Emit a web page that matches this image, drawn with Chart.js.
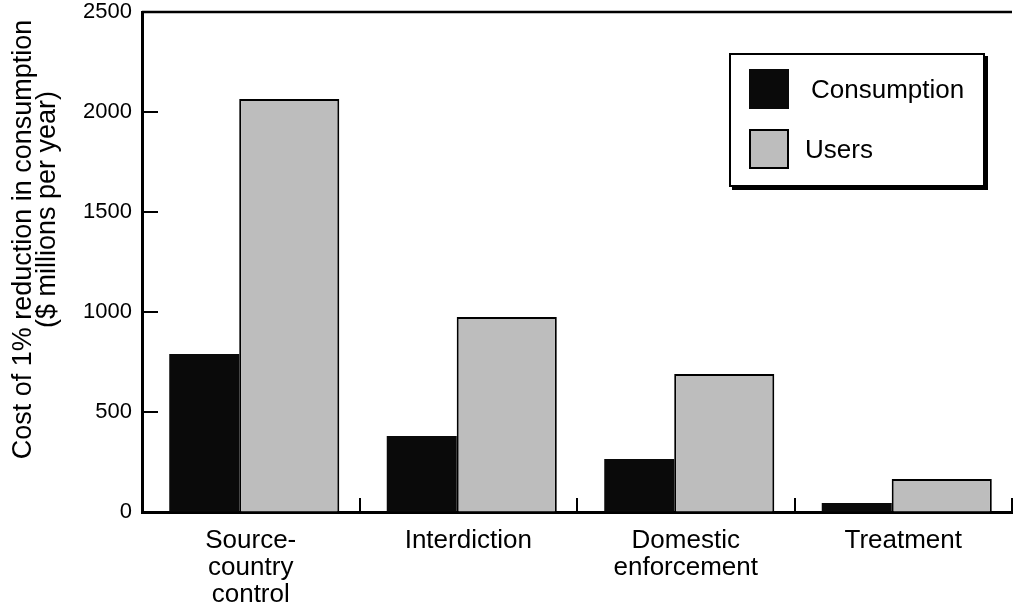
<!DOCTYPE html>
<html>
<head>
<meta charset="utf-8">
<script src="https://cdn.jsdelivr.net/npm/chart.js@4/dist/chart.umd.min.js"></script>
<style>
  body { margin: 0; background: #fff; }
  #wrap { position: relative; width: 1014px; height: 610px; }
  #legend {
    position: absolute; left: 729px; top: 53px; width: 252px; height: 130px;
    border: 2px solid #000; box-shadow: 3px 3px 0 #000; background: #fff;
    font-family: "Liberation Sans", Arial, sans-serif; font-size: 26px; color: #000;
  }
  .item { position: absolute; left: 18px; height: 40px; display: flex; align-items: center; }
  .sw { width: 40px; height: 40px; box-sizing: border-box; margin-right: 16px; }
</style>
</head>
<body>
<div id="wrap">
  <canvas id="chart"></canvas>
  <div id="legend"></div>
</div>
<script>
// データ
const categories = [['Source-', 'country', 'control'], 'Interdiction', ['Domestic', 'enforcement'], 'Treatment'];
const consumption = [790, 380, 265, 45];
const users = [2065, 975, 690, 165];
const seriesNames = ['Consumption', 'Users'];
const seriesColors = ['#0a0a0a', '#bdbdbd'];
const yMin = 0, yMax = 2500, yStep = 500;
const yTitle = ['Cost of 1% reduction in consumption', '($ millions per year)'];

const font = '"Liberation Sans", Arial, sans-serif';

// 上の枠線と、y軸の内向き目盛り
const frame = {
  id: 'frame',
  afterDraw(chart) {
    const { ctx, chartArea: a } = chart;
    const ys = chart.scales.y;
    ctx.save();
    ctx.strokeStyle = '#000';
    ctx.lineWidth = 2.5;
    ctx.beginPath();
    ctx.moveTo(a.left, a.top);
    ctx.lineTo(a.right, a.top);
    ctx.stroke();
    ctx.lineWidth = 2;
    ys.ticks.forEach((t) => {
      const py = Math.round(ys.getPixelForValue(t.value));
      ctx.beginPath();
      ctx.moveTo(a.left, py);
      ctx.lineTo(a.left + 16, py);
      ctx.stroke();
    });
    ctx.restore();
  }
};

// タイトルを少し上にずらす（先頭に空白）
const nb = (n) => '\u00a0'.repeat(n);

const chart = new Chart(document.getElementById('chart'), {
  type: 'bar',
  data: {
    labels: categories,
    datasets: [
      {
        label: seriesNames[0],
        data: consumption,
        backgroundColor: seriesColors[0],
        borderWidth: 0,
        categoryPercentage: 0.855,
        barPercentage: 0.753
      },
      {
        label: seriesNames[1],
        data: users,
        backgroundColor: seriesColors[1],
        borderColor: '#000',
        borderWidth: 2,
        categoryPercentage: 0.708,
        barPercentage: 1.3
      }
    ]
  },
  options: {
    responsive: true,
    maintainAspectRatio: false,
    animation: false,
    layout: { padding: { top: 12, right: 2 } },
    plugins: {
      legend: { display: false },
      tooltip: { enabled: false }
    },
    scales: {
      x: {
        border: { color: '#000', width: 3 },
        grid: {
          drawOnChartArea: false,
          tickLength: -14,
          lineWidth: 2,
          color: (c) => (c.index === 0 || c.index === categories.length) ? 'rgba(0,0,0,0)' : '#000'
        },
        ticks: {
          color: '#000',
          padding: 29,
          maxRotation: 0,
          font: { family: font, size: 26, lineHeight: 1.05 }
        },
        afterFit(scale) { scale.height = 98; }
      },
      y: {
        min: yMin,
        max: yMax,
        border: { color: '#000', width: 3 },
        grid: { drawOnChartArea: false, drawTicks: false },
        ticks: {
          stepSize: yStep,
          color: '#000',
          padding: 10,
          font: { family: font, size: 22 },
          callback: (v) => String(v)
        },
        title: {
          display: true,
          text: [nb(6) + yTitle[0], nb(14) + yTitle[1]],
          color: '#000',
          font: { family: font, size: 27, lineHeight: 0.9 },
          padding: { top: 11, bottom: 0 }
        },
        afterFit(scale) {
          scale.width = 142;
          scale.paddingTop = 0;
        }
      }
    }
  },
  plugins: [frame]
});

// 凡例（HTML）
const legend = document.getElementById('legend');
seriesNames.forEach((name, i) => {
  const item = document.createElement('div');
  item.className = 'item';
  item.style.top = (i === 0 ? 14 : 74) + 'px';
  const sw = document.createElement('div');
  sw.className = 'sw';
  sw.style.background = seriesColors[i];
  if (i === 1) sw.style.border = '2px solid #000';
  else sw.style.marginRight = '22px';
  const txt = document.createElement('span');
  txt.textContent = name;
  item.appendChild(sw);
  item.appendChild(txt);
  legend.appendChild(item);
});
</script>
</body>
</html>
